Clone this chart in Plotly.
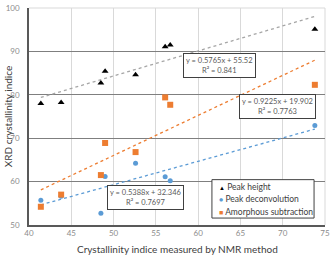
import plotly.graph_objects as go

# Data
nmr = [41.4, 43.8, 48.5, 49.0, 52.6, 56.1, 56.7, 73.8]
peak_height = [78.0, 78.2, 82.7, 85.4, 84.6, 91.1, 91.5, 95.1]
peak_deconv = [55.7, 56.6, 52.7, 61.2, 64.2, 61.1, 60.2, 72.9]
amorphous = [54.2, 57.0, 61.5, 68.9, 66.8, 79.4, 77.7, 82.3]

series_names = ["Peak height", "Peak deconvolution", "Amorphous subtraction"]
slopes = [0.5765, 0.5388, 0.9225]
intercepts = [55.52, 32.346, 19.902]
r2 = [0.841, 0.7697, 0.7763]
eq_pos = [(62.5, 86.7), (53.8, 56.25), (69.4, 77.3)]

x_ticks = [40, 45, 50, 55, 60, 65, 70, 75]
y_ticks = [50, 60, 70, 80, 90, 100]

FONT = "Liberation Sans Narrow, Lato"
colors = ["#000000", "#5B9BD5", "#ED7D31"]
trend_colors = ["#A6A6A6", "#5B9BD5", "#ED7D31"]
symbols = ["triangle-up", "circle", "square"]
legend_glyphs = ["▲", "●", "■"]
sizes = [6, 5, 6]
ys = [peak_height, peak_deconv, amorphous]

fig = go.Figure()

# trendlines
xmin, xmax = min(nmr), max(nmr)
for i in range(3):
    fig.add_trace(go.Scatter(
        x=[xmin, xmax],
        y=[slopes[i] * xmin + intercepts[i], slopes[i] * xmax + intercepts[i]],
        mode="lines", line=dict(color=trend_colors[i], width=1.3, dash="dot"),
        showlegend=False, hoverinfo="skip"))

for i in range(3):
    fig.add_trace(go.Scatter(
        x=nmr, y=ys[i], mode="markers", name=series_names[i], showlegend=False,
        marker=dict(symbol=symbols[i], size=sizes[i], color=colors[i], line=dict(width=0))))

for i in range(3):
    fig.add_annotation(
        x=eq_pos[i][0], y=eq_pos[i][1], xref="x", yref="y",
        text=f"y = {slopes[i]}x + {intercepts[i]}<br>R² = {r2[i]}",
        showarrow=False, font=dict(family=FONT, size=7.5, color="#595959"),
        bgcolor="white", bordercolor="#404040", borderwidth=1, borderpad=2, align="center")

fig.add_annotation(x=0.5, y=-0.11, xref="paper", yref="paper",
                   text="Crystallinity indice measured by NMR method", showarrow=False,
                   font=dict(family=FONT, size=10, color="#404040"), yanchor="middle")
fig.add_annotation(x=-0.072, y=0.5, xref="paper", yref="paper",
                   text="XRD crystallinity indice", textangle=-90, showarrow=False,
                   font=dict(family=FONT, size=10, color="#404040"), xanchor="center")

# manual legend (box + entries)
fig.add_shape(type="rect", xref="paper", yref="paper", x0=0.618, x1=0.963, y0=0.032, y1=0.209,
              line=dict(color="#404040", width=1), fillcolor="white", layer="above")
legend_rows = [0.177, 0.118, 0.059]
glyph_sizes = [6, 7, 7]
for i in range(3):
    fig.add_annotation(
        x=0.636, y=legend_rows[i], xref="paper", yref="paper", xanchor="left", yanchor="middle",
        text=f"<span style='color:{colors[i]};font-size:{glyph_sizes[i]}px'>{legend_glyphs[i]}</span> {series_names[i]}",
        showarrow=False, font=dict(family=FONT, size=8.5, color="#404040"))

# light top/right border
fig.add_shape(type="path", path="M 0,1 L 1,1 L 1,0", xref="paper", yref="paper",
              line=dict(color="#D9D9D9", width=1), layer="below")

fig.update_layout(
    width=333, height=255,
    margin=dict(l=29, r=3, t=5, b=30),
    paper_bgcolor="white", plot_bgcolor="white",
    font=dict(family=FONT),
    showlegend=False,
    xaxis=dict(range=[40, 75], tickvals=x_ticks, showgrid=True, gridcolor="#D9D9D9",
               gridwidth=1, showline=True, linecolor="#595959", linewidth=1.5,
               tickfont=dict(family=FONT, size=8, color="#8C8C8C"), zeroline=False,
               ticks="", ticklabeloverflow="allow"),
    yaxis=dict(range=[50, 100], tickvals=y_ticks, showgrid=True, gridcolor="#7F7F7F",
               gridwidth=1.3, showline=True, linecolor="#595959", linewidth=1.5,
               tickfont=dict(family=FONT, size=8, color="#8C8C8C"), zeroline=False,
               ticks="", ticklabelstandoff=6, ticklabeloverflow="allow"),
)

fig.write_html("out.html")
